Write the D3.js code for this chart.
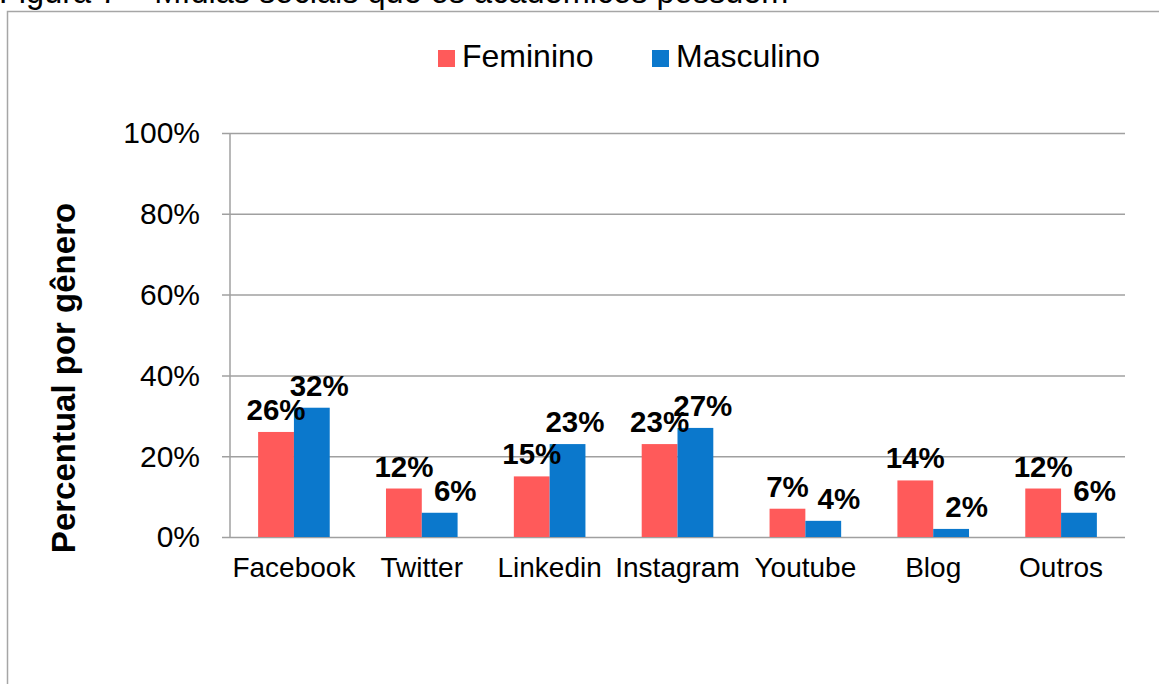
<!DOCTYPE html>
<html>
<head>
<meta charset="utf-8">
<script src="https://cdn.jsdelivr.net/npm/d3@7"></script>
<style>
body { margin: 0; background: #fff; }
svg { display: block; font-family: Arial, "Liberation Sans", sans-serif; }
</style>
</head>
<body>
<div class="chart-wrapper"></div>
<script>
const categories = ['Facebook', 'Twitter', 'Linkedin', 'Instagram', 'Youtube', 'Blog', 'Outros']
const seriesNames = ['Feminino', 'Masculino']
const feminino = [26, 12, 15, 23, 7, 14, 12]
const masculino = [32, 6, 23, 27, 4, 2, 6]
const yTicks = [0, 20, 40, 60, 80, 100]

const colors = ['#ff5a5a', '#0b78cc']

const width = 1159
const height = 684

const margin = {left:230, top:133, right:34, bottom:147}

const svg = d3.select('.chart-wrapper')
.append('svg')
.attr('width', width)
.attr('height', height)

// figure caption, cut off by the page edge
svg.append('text')
.attr('x', -1)
.attr('y', 3)
.style('font-size', '32.5px')
.text('Figura 7 – Mídias sociais que os acadêmicos possuem')

// chart frame
svg.append('path')
.attr('d', `M7.5,${height}V11.5H${width}`)
.attr('fill', 'none')
.attr('stroke', '#a6a6a6')
.attr('stroke-width', 1.5)

const xScale = d3.scaleBand()
.domain(categories)
.range([margin.left, width - margin.right])

const yScale = d3.scaleLinear()
.domain([0, 100])
.range([height - margin.bottom, margin.top])

const groupWidth = xScale.bandwidth() * 0.56

const xInner = d3.scaleBand()
.domain(seriesNames)
.range([0, groupWidth])

// gridlines + y axis
const yAxis = svg.append('g')
.attr('transform', `translate(${margin.left},0)`)
.call(
	d3.axisLeft(yScale)
	.tickValues(yTicks)
	.tickSize(-(width - margin.left - margin.right))
	.tickPadding(30)
	.tickFormat(d => d + '%')
)

yAxis.select('.domain').remove()
yAxis.selectAll('line')
.attr('x1', -8)
.attr('stroke', '#a0a0a0')
.attr('stroke-width', 1.5)
yAxis.selectAll('text')
.style('font-size', '30px')
.style('fill', '#000')
.attr('dy', '0.33em')

svg.append('line')
.attr('x1', margin.left)
.attr('x2', margin.left)
.attr('y1', yScale(100))
.attr('y2', yScale(0))
.attr('stroke', '#a0a0a0')
.attr('stroke-width', 1.5)

// category labels
svg.append('g')
.selectAll('text')
.data(categories)
.enter()
.append('text')
.attr('x', d => xScale(d) + xScale.bandwidth() / 2)
.attr('y', yScale(0) + 40)
.attr('text-anchor', 'middle')
.style('font-size', '28px')
.text(d => d)

const rows = categories.map((c, i) => ({cat:c, values:[feminino[i], masculino[i]]}))

const groups = svg.append('g')
.selectAll('g')
.data(rows)
.enter()
.append('g')
.attr('transform', d => `translate(${xScale(d.cat) + (xScale.bandwidth() - groupWidth) / 2},0)`)

groups.selectAll('rect')
.data(d => d.values.map((v, j) => ({name:seriesNames[j], v:v, j:j})))
.enter()
.append('rect')
.attr('x', d => xInner(d.name))
.attr('width', xInner.bandwidth())
.attr('y', d => yScale(d.v))
.attr('height', d => yScale(0) - yScale(d.v))
.attr('fill', d => colors[d.j])

groups.selectAll('text')
.data(d => d.values.map((v, j) => ({name:seriesNames[j], v:v, j:j})))
.enter()
.append('text')
.attr('x', d => d.j == 0 ? xInner(d.name) + xInner.bandwidth() / 2 : xInner(d.name) + xInner.bandwidth() + 19)
.attr('y', d => yScale(d.v) - 12)
.attr('text-anchor', d => d.j == 0 ? 'middle' : 'end')
.style('font-size', '29.5px')
.style('font-weight', 'bold')
.text(d => d.v + '%')

// y axis title
svg.append('text')
.attr('transform', 'translate(75,378) rotate(-90)')
.attr('text-anchor', 'middle')
.style('font-size', '33px')
.style('font-weight', 'bold')
.text('Percentual por gênero')

// legend
const legendX = [438, 652]
const legend = svg.append('g')
.selectAll('g')
.data(seriesNames)
.enter()
.append('g')
.attr('transform', (d, i) => `translate(${legendX[i]},50)`)

legend.append('rect')
.attr('width', 17)
.attr('height', 17)
.attr('fill', (d, i) => colors[i])

legend.append('text')
.attr('x', 24)
.attr('y', 17)
.style('font-size', '32px')
.text(d => d)
</script>
</body>
</html>
